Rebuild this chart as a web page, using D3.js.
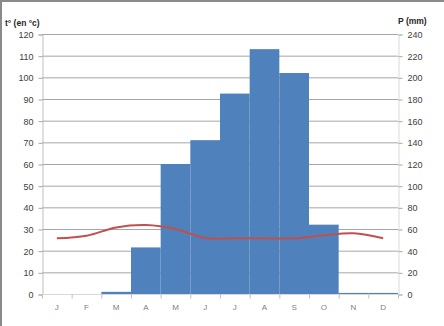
<!DOCTYPE html>
<html><head><meta charset="utf-8">
<script src="https://cdn.jsdelivr.net/npm/d3@7"></script>
<style>
html,body{margin:0;padding:0;background:#fff;}
svg{display:block;font-family:"Liberation Sans",Arial,sans-serif;}
</style></head>
<body><svg id="c" width="444" height="326"></svg>
<script>
const months = ["J","F","M","A","M","J","J","A","S","O","N","D"];
const precipitation = [0, 0, 2, 43, 120, 142, 185, 226, 204, 64, 1, 1];
const temperature = [25.7, 26.9, 30.7, 31.8, 30, 25.8, 25.7, 25.7, 25.7, 27.1, 28, 25.7];
const leftTicks = d3.range(0, 121, 10);
const rightTicks = d3.range(0, 241, 20);

const svg = d3.select("#c");
const m = {l:42, r:398, t:34, b:294};
const x = d3.scaleBand().domain(d3.range(12)).range([m.l, m.r]).padding(0);
const yT = d3.scaleLinear().domain([0,120]).range([m.b, m.t]);
const yP = d3.scaleLinear().domain([0,240]).range([m.b, m.t]);

// chart border
svg.append("line").attr("x1",1).attr("x2",1).attr("y1",0).attr("y2",326).attr("stroke","#8a8a8a").attr("stroke-width",2);
svg.append("line").attr("x1",0).attr("x2",444).attr("y1",1).attr("y2",1).attr("stroke","#8a8a8a").attr("stroke-width",2);

// gridlines
svg.append("g").selectAll("line").data(leftTicks.filter(d=>d>0)).join("line")
  .attr("x1",m.l).attr("x2",m.r).attr("y1",d=>yT(d)+0.5).attr("y2",d=>yT(d)+0.5)
  .attr("stroke","#a6a6a6").attr("stroke-width",1);

// bars
svg.append("g").selectAll("rect").data(precipitation).join("rect")
  .attr("x",(d,i)=>x(i)).attr("width",x.bandwidth())
  .attr("y",d=>yP(d)).attr("height",d=>m.b-yP(d))
  .attr("fill","#4f81bd");

// left axis
const axL = d3.axisLeft(yT).tickValues(leftTicks).tickSize(4).tickPadding(5);
const gL = svg.append("g").attr("transform",`translate(${m.l+0.5},0.5)`).call(axL);
gL.select(".domain").attr("stroke","#bfbfbf");
gL.selectAll(".tick line").attr("stroke","#a6a6a6");
gL.selectAll("text").attr("fill","#404040").style("font-size","9px");

// right axis
const axR = d3.axisRight(yP).tickValues(rightTicks).tickSize(4).tickPadding(5);
const gR = svg.append("g").attr("transform",`translate(${m.r+0.5},0.5)`).call(axR);
gR.select(".domain").attr("stroke","#d9d9d9");
gR.selectAll(".tick line").attr("stroke","#a6a6a6");
gR.selectAll("text").attr("fill","#404040").style("font-size","9px");

// bottom axis
const gB = svg.append("g").attr("transform",`translate(0,${m.b+0.5})`);
gB.append("line").attr("x1",m.l).attr("x2",m.r).attr("stroke","#d9d9d9");
gB.selectAll(".tk").data(d3.range(13)).join("line").attr("class","tk")
  .attr("x1",i=>m.l+i*x.step()+0.5).attr("x2",i=>m.l+i*x.step()+0.5)
  .attr("y1",0).attr("y2",4).attr("stroke","#bfbfbf");
gB.selectAll("text").data(months).join("text")
  .attr("x",(d,i)=>x(i)+x.bandwidth()/2).attr("y",15)
  .attr("text-anchor","middle").attr("fill","#808080").style("font-size","8px").text(d=>d);

// temperature line
const line = d3.line().x((d,i)=>x(i)+x.bandwidth()/2).y(d=>yT(d)).curve(d3.curveCardinal.tension(0));
svg.append("path").datum(temperature).attr("d",line)
  .attr("fill","none").attr("stroke","#c0504d").attr("stroke-width",2);

// axis titles
svg.append("text").attr("x",5).attr("y",26).attr("fill","#262626").style("font-size","8.5px").style("font-weight","bold").text("t° (en °c)");
svg.append("text").attr("x",398).attr("y",24).attr("fill","#262626").style("font-size","8.5px").style("font-weight","bold").text("P (mm)");
</script></body></html>
